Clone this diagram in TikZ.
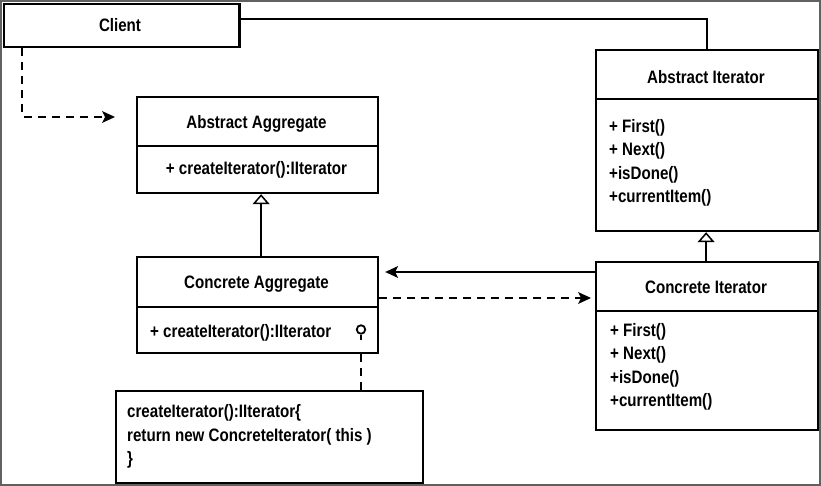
\documentclass[tikz,border=0pt]{standalone}
\usepackage{fontspec}
\setmainfont{Liberation Sans}[FakeStretch=0.84]
\usetikzlibrary{arrows.meta}
\begin{document}
\begin{tikzpicture}[x=1pt,y=-1pt,
  box/.style={draw=black, line width=2.2pt, fill=white, inner sep=0pt, anchor=north west},
  divider/.style={draw=black, line width=2.2pt},
  title/.style={font=\bfseries\fontsize{18}{22}\selectfont, anchor=base, inner sep=0pt},
  item/.style={font=\bfseries\fontsize{18}{22}\selectfont, anchor=base west, inner sep=0pt},
  conn/.style={draw=black, line width=2.2pt},
  dconn/.style={draw=black, line width=2.2pt, dash pattern=on 8pt off 6pt},
  solidtip/.style={-{Stealth[length=13pt,width=12pt,inset=3pt,line width=0pt]}},
  inherit/.style={-{Triangle[open,length=10pt,width=17pt,fill=white,line width=1.5pt]}}
]
\useasboundingbox (0,0) rectangle (821,486);
\draw[draw=black!62, line width=1.8pt] (0.9,0.9) rectangle (820.1,485.1);

% boxes
\node[box, minimum width=235.5pt, minimum height=43.5pt] (client) at (2.8,2.8) {};
\node[box, minimum width=241pt, minimum height=96pt] (aa) at (136,96) {};
\node[box, minimum width=241pt, minimum height=96pt] (ca) at (136,256) {};
\node[box, minimum width=222pt, minimum height=181pt] (ai) at (595,49) {};
\node[box, minimum width=222pt, minimum height=168pt] (ci) at (595,261) {};
\node[box, minimum width=307pt, minimum height=92pt] (note) at (115,390) {};

% dividers
\draw[divider] (aa.west |- 0,146) -- (aa.east |- 0,146);
\draw[divider] (ca.west |- 0,307) -- (ca.east |- 0,307);
\draw[divider] (ai.west |- 0,99) -- (ai.east |- 0,99);
\draw[divider] (ci.west |- 0,311) -- (ci.east |- 0,311);

% texts
\node[title] (clientt) at (120,31.5) {Client};
\node[title] (aat) at (256.5,128.5) {Abstract Aggregate};
\node[title] (aai) at (256.5,174.5) {+ createIterator():IIterator};
\node[title] (cat) at (256.5,288.5) {Concrete Aggregate};
\node[item] (cai) at (150,337.5) {+ createIterator():IIterator};
\node[title] (ait) at (706,83.5) {Abstract Iterator};
\node[item] (ai1) at (609,132.5) {+ First()};
\node[item] (ai2) at (609,155.8) {+ Next()};
\node[item] (ai3) at (609,179.1) {+isDone()};
\node[item] (ai4) at (609,202.4) {+currentItem()};
\node[title] (cit) at (706,293.5) {Concrete Iterator};
\node[item] (ci1) at (610,336.5) {+ First()};
\node[item] (ci2) at (610,359.8) {+ Next()};
\node[item] (ci3) at (610,383.1) {+isDone()};
\node[item] (ci4) at (610,406.4) {+currentItem()};
\node[item] (n1) at (127,417.5) {createIterator():IIterator\{};
\node[item] (n2) at (127,441) {return new ConcreteIterator( this )};
\node[item] (n3) at (127,464.5) {\}};

% connectors
\draw[conn] ([yshift=-16.5pt]client.north east) -| (ai.north);
\coordinate (dtip) at (115,117);
\draw[dconn, solidtip] ([xshift=19.5pt]client.south west) |- (dtip);
\draw[conn, inherit] ([xshift=3.5pt]ca.north) -- ([xshift=3.5pt]aa.south);
\draw[conn, inherit] ([xshift=-1pt]ci.north) -- ([xshift=-1pt]ai.south);
\draw[conn, solidtip, shorten >=6pt] ([yshift=-11pt]ci.north west) -- ([yshift=-16pt]ca.north east);
\draw[dconn, solidtip, shorten >=4pt] ([yshift=-42pt]ca.north east) -- ([yshift=-37pt]ci.north west);

% lollipop
\node[draw=black, line width=1.8pt, circle, minimum size=8.5pt, inner sep=0pt] (lol) at (361,329.5) {};
\coordinate (stem) at (361,340);
\draw[conn, line width=1.8pt] (lol.south) -- (stem);
\draw[dconn] (lol |- ca.south) -- (lol |- note.north);
\end{tikzpicture}
\end{document}
